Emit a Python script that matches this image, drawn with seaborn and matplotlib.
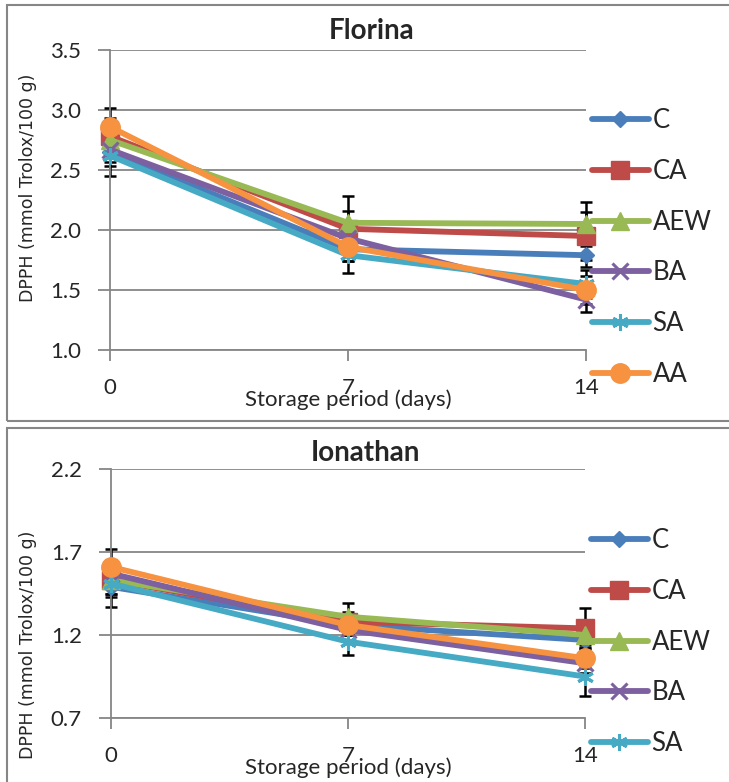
import matplotlib
matplotlib.use('Agg')
import matplotlib.pyplot as plt
import seaborn as sns
from matplotlib.patches import Rectangle

# storage days and treatments
days = [0, 7, 14]
treatments = ['C', 'CA', 'AEW', 'BA', 'SA', 'AA']

# Florina DPPH means and error bars
florina_C = [2.65, 1.84, 1.79]
florina_CA = [2.78, 2.01, 1.95]
florina_AEW = [2.75, 2.06, 2.05]
florina_BA = [2.67, 1.93, 1.42]
florina_SA = [2.62, 1.79, 1.55]
florina_AA = [2.86, 1.86, 1.50]
florina_err_C = [0.12, 0.10, 0.10]
florina_err_CA = [0.15, 0.15, 0.20]
florina_err_AEW = [0.10, 0.22, 0.18]
florina_err_BA = [0.10, 0.10, 0.10]
florina_err_SA = [0.17, 0.15, 0.12]
florina_err_AA = [0.16, 0.12, 0.12]

# Ionathan DPPH means and error bars
ionathan_C = [1.49, 1.26, 1.17]
ionathan_CA = [1.53, 1.28, 1.24]
ionathan_AEW = [1.53, 1.31, 1.20]
ionathan_BA = [1.57, 1.23, 1.03]
ionathan_SA = [1.51, 1.16, 0.95]
ionathan_AA = [1.61, 1.26, 1.06]
ionathan_err_C = [0.12, 0.06, 0.06]
ionathan_err_CA = [0.08, 0.06, 0.12]
ionathan_err_AEW = [0.08, 0.08, 0.06]
ionathan_err_BA = [0.08, 0.06, 0.06]
ionathan_err_SA = [0.08, 0.08, 0.12]
ionathan_err_AA = [0.11, 0.06, 0.06]

florina_ticks = [1.0, 1.5, 2.0, 2.5, 3.0, 3.5]
ionathan_ticks = [0.7, 1.2, 1.7, 2.2]

colors = {'C': '#4A7EBB', 'CA': '#BE4B48', 'AEW': '#98B954',
          'BA': '#7D60A0', 'SA': '#46AAC5', 'AA': '#F69240'}
markers = {'C': 'D', 'CA': 's', 'AEW': '^', 'BA': 'x', 'SA': (6, 2, 0), 'AA': 'o'}
msizes = {'C': 8, 'CA': 13, 'AEW': 12.5, 'BA': 12, 'SA': 12, 'AA': 14}

sns.set_theme(style='white')
plt.rcParams['font.family'] = ['Lato', 'DejaVu Sans']

W, H = 729, 782
fig = plt.figure(figsize=(W / 100, H / 100), dpi=100)
gray = '#868686'


def px_axes(left, top, right, bottom):
    return fig.add_axes([left / W, 1 - bottom / H, (right - left) / W, (bottom - top) / H])


def panel(ax, title, title_xy, series, errs, yticks, xlab_y, ylab_y, leg_y):
    for name in treatments:
        ax.errorbar(days, series[name], yerr=errs[name], fmt='none', ecolor='black',
                    elinewidth=1.8, capsize=4, capthick=1.8, zorder=2, clip_on=False)
    for i, name in enumerate(treatments):
        mew = 2.2 if name in ('BA', 'SA') else 1
        sns.lineplot(x=days, y=series[name], ax=ax, color=colors[name], label=name,
                     marker=markers[name], markersize=msizes[name], markeredgewidth=mew,
                     markeredgecolor=colors[name], linewidth=4.2, clip_on=False,
                     zorder=3 + i)
    ax.set_xlim(0, 14)
    ax.set_ylim(yticks[0], yticks[-1])
    ax.set_xticks(days)
    ax.set_yticks(yticks)
    ax.set_yticklabels([f'{t:.1f}' for t in yticks])
    ax.grid(False)
    ax.yaxis.grid(True, color=gray, lw=1.3)
    for s in ('top', 'right'):
        ax.spines[s].set_visible(False)
    for s in ('left', 'bottom'):
        ax.spines[s].set_color(gray)
        ax.spines[s].set_linewidth(1.3)
    ax.tick_params(axis='y', length=9, width=1.3, color=gray, pad=12, labelsize=16, left=True)
    ax.tick_params(axis='x', length=8, width=1.3, color=gray, pad=12, labelsize=16, bottom=True)
    ax.set_xlabel('')
    ax.set_ylabel('')

    fig.text(title_xy[0] / W, 1 - title_xy[1] / H, title, ha='center', va='center',
             fontsize=20, fontweight='bold')
    fig.text(348 / W, 1 - xlab_y / H, 'Storage period (days)', ha='center', va='center',
             fontsize=16)
    fig.text(28 / W, 1 - ylab_y / H, 'DPPH (mmol Trolox/100 g)', rotation=90,
             ha='center', va='center', fontsize=12.5, family=['DejaVu Sans'])

    handles, labels = ax.get_legend_handles_labels()
    ax.legend(handles, labels, loc='center left', bbox_to_anchor=(1.013, leg_y),
              frameon=False, fontsize=18.5, handlelength=2.2, handletextpad=0.15,
              labelspacing=1.0, borderaxespad=0, borderpad=0, numpoints=1)


ax1 = px_axes(110, 50, 586, 350)
panel(ax1, 'Florina', (372, 31),
      {'C': florina_C, 'CA': florina_CA, 'AEW': florina_AEW,
       'BA': florina_BA, 'SA': florina_SA, 'AA': florina_AA},
      {'C': florina_err_C, 'CA': florina_err_CA, 'AEW': florina_err_AEW,
       'BA': florina_err_BA, 'SA': florina_err_SA, 'AA': florina_err_AA},
      florina_ticks, 400, 188, 0.342)

ax2 = px_axes(111, 469, 585, 718)
panel(ax2, 'Ionathan', (365, 453),
      {'C': ionathan_C, 'CA': ionathan_CA, 'AEW': ionathan_AEW,
       'BA': ionathan_BA, 'SA': ionathan_SA, 'AA': ionathan_AA},
      {'C': ionathan_err_C, 'CA': ionathan_err_CA, 'AEW': ionathan_err_AEW,
       'BA': ionathan_err_BA, 'SA': ionathan_err_SA, 'AA': ionathan_err_AA},
      ionathan_ticks, 768, 645, 0.203)

# chart area borders
fig.add_artist(Rectangle((7 / W, 1 - 421 / H), 740 / W, 416 / H, transform=fig.transFigure,
                         fill=False, edgecolor=gray, lw=1.5))
fig.add_artist(Rectangle((7 / W, 1 - 900 / H), 740 / W, 472 / H, transform=fig.transFigure,
                         fill=False, edgecolor=gray, lw=1.5))

fig.savefig('out.png', dpi=100)
